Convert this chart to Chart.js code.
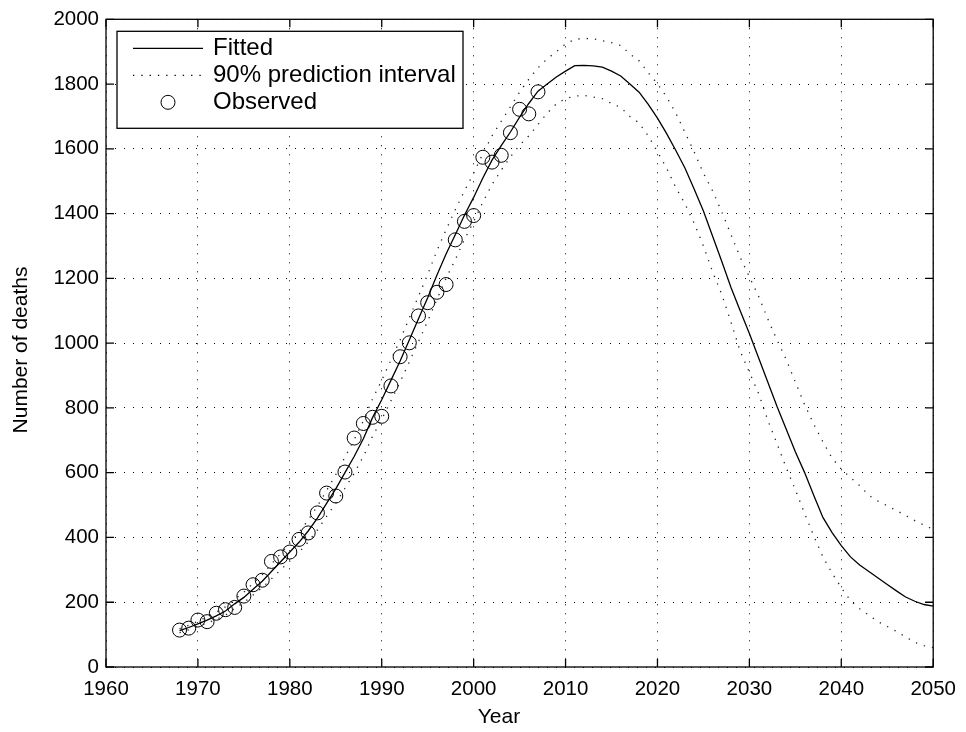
<!DOCTYPE html>
<html>
<head>
<meta charset="utf-8">
<script src="https://cdn.jsdelivr.net/npm/chart.js@4.4.1/dist/chart.umd.min.js"></script>
<style>
  html, body { margin: 0; padding: 0; background: #fff; }
  #wrap { width: 966px; height: 732px; }
</style>
</head>
<body>
<div id="wrap"><canvas id="deathsChart" width="966" height="732"></canvas></div>
<script>
// observed deaths per year
const obsYears = [1968, 1969, 1970, 1971, 1972, 1973, 1974, 1975, 1976, 1977,
  1978, 1979, 1980, 1981, 1982, 1983, 1984, 1985, 1986, 1987,
  1988, 1989, 1990, 1991, 1992, 1993, 1994, 1995, 1996, 1997,
  1998, 1999, 2000, 2001, 2002, 2003, 2004, 2005, 2006, 2007];
const observed = [114, 120, 145, 140, 166, 177, 184, 219, 254, 268,
  326, 340, 355, 394, 414, 476, 537, 528, 602, 707,
  752, 771, 774, 868, 958, 1001, 1084, 1125, 1157, 1181,
  1319, 1376, 1394, 1574, 1559, 1580, 1650, 1722, 1708, 1776];

// fitted curve and 90% prediction band, 1968-2050
const fitYears = [];
for (let y = 1968; y <= 2050; y++) fitYears.push(y);
const fitted = [112, 122, 133, 145, 158, 173, 195, 215, 240, 265,
  295, 325, 355, 385, 420, 460, 505, 550, 600, 650,
  705, 770, 825, 885, 945, 1010, 1075, 1140, 1210, 1275,
  1335, 1395, 1450, 1510, 1565, 1610, 1652, 1698, 1740, 1778,
  1800, 1822, 1840, 1857, 1858, 1856, 1852, 1840, 1825, 1800,
  1775, 1737, 1695, 1647, 1595, 1540, 1475, 1408, 1330, 1252,
  1172, 1100, 1030, 955, 880, 805, 735, 665, 601, 530,
  462, 415, 375, 340, 315, 295, 275, 255, 235, 216,
  203, 193, 188];
const upper = [118, 129, 141, 155, 169, 186, 209, 231, 258, 285,
  318, 350, 383, 416, 454, 497, 545, 594, 648, 702,
  760, 828, 885, 948, 1010, 1078, 1145, 1212, 1285, 1350,
  1412, 1470, 1525, 1585, 1640, 1685, 1730, 1775, 1815, 1850,
  1878, 1900, 1924, 1938, 1941, 1940, 1934, 1928, 1919, 1893,
  1872, 1835, 1801, 1760, 1710, 1650, 1590, 1525, 1470, 1405,
  1335, 1265, 1205, 1145, 1075, 1010, 950, 880, 811, 750,
  695, 645, 611, 585, 560, 530, 512, 498, 483, 468,
  452, 438, 425];
const lower = [106, 115, 125, 135, 147, 160, 181, 199, 222, 245,
  272, 300, 327, 354, 386, 423, 465, 506, 552, 598,
  650, 712, 765, 822, 880, 942, 1005, 1068, 1135, 1200,
  1258, 1320, 1375, 1435, 1490, 1534, 1575, 1611, 1640, 1675,
  1710, 1739, 1755, 1763, 1765, 1760, 1755, 1740, 1728, 1700,
  1680, 1640, 1591, 1540, 1480, 1430, 1370, 1300, 1220, 1150,
  1065, 975, 910, 845, 762, 690, 616, 547, 475, 405,
  340, 290, 245, 205, 180, 160, 140, 125, 110, 93,
  76, 66, 60];

const xTicks = [1960, 1970, 1980, 1990, 2000, 2010, 2020, 2030, 2040, 2050];
const yTicks = [0, 200, 400, 600, 800, 1000, 1200, 1400, 1600, 1800, 2000];
const xTitle = 'Year';
const yTitle = 'Number of deaths';

const FONT = '"Liberation Sans", Arial, Helvetica, sans-serif';

function pts(xs, ys) {
  return xs.map((x, i) => ({ x: x, y: ys[i] }));
}

// box, inward ticks on all sides, axis titles and the legend, MATLAB style
const matlabFrame = {
  id: 'matlabFrame',
  afterDraw(chart) {
    const ctx = chart.ctx;
    const a = chart.chartArea;
    const xs = chart.scales.x, ys = chart.scales.y;
    const tl = 8;
    ctx.save();
    ctx.strokeStyle = '#000';
    ctx.lineWidth = 1.3;
    ctx.setLineDash([]);
    ctx.strokeRect(a.left, a.top, a.right - a.left, a.bottom - a.top);
    ctx.beginPath();
    xTicks.forEach(v => {
      const px = xs.getPixelForValue(v);
      ctx.moveTo(px, a.bottom); ctx.lineTo(px, a.bottom - tl);
      ctx.moveTo(px, a.top); ctx.lineTo(px, a.top + tl);
    });
    yTicks.forEach(v => {
      const py = ys.getPixelForValue(v);
      ctx.moveTo(a.left, py); ctx.lineTo(a.left + tl, py);
      ctx.moveTo(a.right, py); ctx.lineTo(a.right - tl, py);
    });
    ctx.stroke();

    // axis titles
    ctx.fillStyle = '#000';
    ctx.font = '21px ' + FONT;
    ctx.textAlign = 'center';
    ctx.textBaseline = 'middle';
    ctx.fillText(xTitle, 499, 717);
    ctx.save();
    ctx.translate(21, 350);
    ctx.rotate(-Math.PI / 2);
    ctx.fillText(yTitle, 0, 0);
    ctx.restore();

    // legend
    const lx = a.left + 11, ly = a.top + 12, lw = 346, lh = 97;
    ctx.fillStyle = '#fff';
    ctx.fillRect(lx, ly, lw, lh);
    ctx.lineWidth = 1.3;
    ctx.strokeRect(lx, ly, lw, lh);
    const rows = chart.data.datasets.filter(d => d.label !== '');
    ctx.font = '24px ' + FONT;
    ctx.textAlign = 'left';
    ctx.textBaseline = 'middle';
    ctx.fillStyle = '#000';
    rows.forEach((d, i) => {
      const ry = ly + 17 + i * 27;
      ctx.strokeStyle = '#000';
      if (d.showLine === false) {
        ctx.lineWidth = 1;
        ctx.setLineDash([]);
        ctx.beginPath();
        ctx.arc(lx + 51, ry, 7, 0, Math.PI * 2);
        ctx.stroke();
      } else {
        ctx.lineWidth = d.borderWidth;
        ctx.setLineDash(d.borderDash || []);
        ctx.beginPath();
        ctx.moveTo(lx + 16, ry);
        ctx.lineTo(lx + 86, ry);
        ctx.stroke();
      }
      ctx.fillText(d.label, lx + 96, ry);
    });
    ctx.restore();
  }
};

const ctx = document.getElementById('deathsChart').getContext('2d');
const deathsChart = new Chart(ctx, {
  type: 'line',
  data: {
    datasets: [
      {
        label: 'Fitted',
        data: pts(fitYears, fitted),
        borderColor: '#000',
        borderWidth: 1.3,
        pointRadius: 0,
        tension: 0,
        fill: false
      },
      {
        label: '90% prediction interval',
        data: pts(fitYears, upper),
        borderColor: '#222',
        borderWidth: 1.3,
        borderDash: [1.3, 7],
        pointRadius: 0,
        tension: 0,
        fill: false
      },
      {
        label: '',
        data: pts(fitYears, lower),
        borderColor: '#222',
        borderWidth: 1.3,
        borderDash: [1.3, 7],
        pointRadius: 0,
        tension: 0,
        fill: false
      },
      {
        label: 'Observed',
        data: pts(obsYears, observed),
        showLine: false,
        pointStyle: 'circle',
        pointRadius: 7,
        pointBorderWidth: 1,
        pointBorderColor: '#000',
        pointBackgroundColor: 'rgba(0,0,0,0)',
        borderColor: '#000'
      }
    ]
  },
  options: {
    responsive: false,
    animation: false,
    devicePixelRatio: 1,
    layout: { padding: { top: 17, right: 31, left: 0, bottom: 0 } },
    plugins: {
      legend: { display: false },
      tooltip: { enabled: false }
    },
    scales: {
      x: {
        type: 'linear',
        min: 1960,
        max: 2050,
        afterFit: s => { s.height = 65; },
        afterBuildTicks: s => { s.ticks = xTicks.map(v => ({ value: v })); },
        ticks: {
          color: '#000',
          padding: 10,
          maxRotation: 0,
          font: { family: FONT, size: 20.5 },
          callback: v => String(v)
        },
        grid: { color: '#000', lineWidth: 1, drawTicks: false },
        border: { display: false, dash: [1, 8] }
      },
      y: {
        min: 0,
        max: 2000,
        afterFit: s => { s.width = 106; },
        afterBuildTicks: s => { s.ticks = yTicks.map(v => ({ value: v })); },
        ticks: {
          color: '#000',
          padding: 7,
          font: { family: FONT, size: 20.5 },
          callback: v => String(v)
        },
        grid: { color: '#000', lineWidth: 1, drawTicks: false },
        border: { display: false, dash: [1, 8] }
      }
    }
  },
  plugins: [matlabFrame]
});
</script>
</body>
</html>
